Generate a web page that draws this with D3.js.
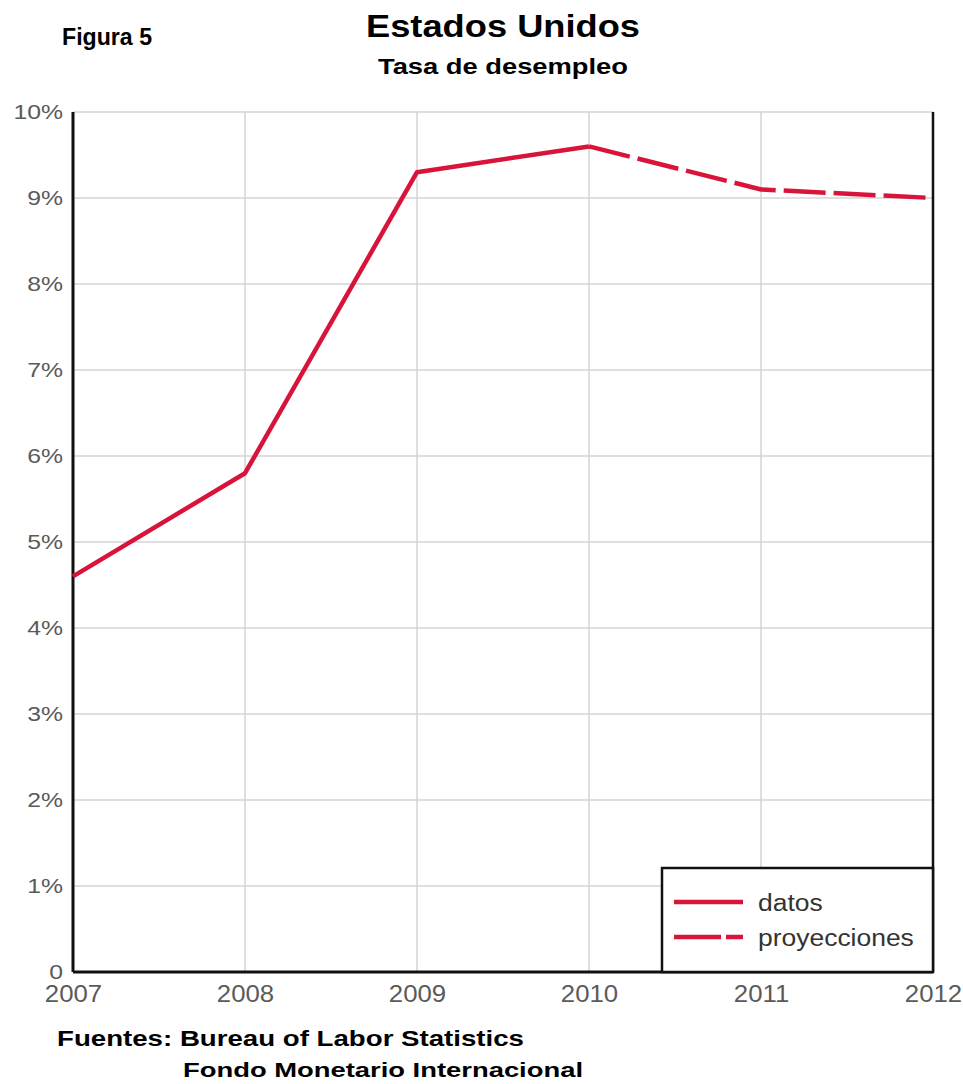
<!DOCTYPE html>
<html>
<head>
<meta charset="utf-8">
<script src="https://cdn.jsdelivr.net/npm/d3@7"></script>
<style>
  body { margin: 0; background: #fff; }
  text { font-family: "Liberation Sans", Arial, sans-serif; }
</style>
</head>
<body>
<svg id="chart"></svg>
<script>
// data
const years = [2007, 2008, 2009, 2010, 2011, 2012];
const datos = [4.6, 5.8, 9.3, 9.6];          // 2007-2010
const proyecciones = [9.6, 9.1, 9.0];        // 2010-2012
const yTicks = [0, 1, 2, 3, 4, 5, 6, 7, 8, 9, 10];

const width = 963, height = 1084;
const margin = {top: 112, right: 30, bottom: 112, left: 73};
const red = '#d8143a';

const svg = d3.select('#chart')
    .attr('width', width)
    .attr('height', height);

const innerW = width - margin.left - margin.right;
const innerH = height - margin.top - margin.bottom;

const x = d3.scaleLinear().domain([2007, 2012]).range([0, innerW]);
const y = d3.scaleLinear().domain([0, 10]).range([innerH, 0]);

// the lettering in the original is stretched sideways
function stretch(sel, k) {
    sel.each(function() {
        const w = this.getComputedTextLength();
        d3.select(this)
            .attr('textLength', w * k)
            .attr('lengthAdjust', 'spacingAndGlyphs');
    });
}

const chart = svg.append('g')
    .attr('transform', `translate(${margin.left},${margin.top})`);

// grid
chart.append('g')
    .selectAll('line')
    .data(yTicks)
    .join('line')
    .attr('x1', 0).attr('x2', innerW)
    .attr('y1', d => y(d)).attr('y2', d => y(d))
    .attr('stroke', '#d4d4d4')
    .attr('stroke-width', 1.5);

chart.append('g')
    .selectAll('line')
    .data(years)
    .join('line')
    .attr('x1', d => x(d)).attr('x2', d => x(d))
    .attr('y1', 0).attr('y2', innerH)
    .attr('stroke', '#d4d4d4')
    .attr('stroke-width', 1.5);

// axes
const yAxis = d3.axisLeft(y)
    .tickValues(yTicks)
    .tickSize(0)
    .tickPadding(10)
    .tickFormat(d => d === 0 ? '0' : d + '%');

const yg = chart.append('g').call(yAxis);
yg.select('.domain').remove();
yg.selectAll('text')
    .attr('font-size', 21)
    .attr('fill', '#5a5a5a')
    .attr('font-family', '"Liberation Sans", Arial, sans-serif')
    .call(stretch, 1.18);

const xAxis = d3.axisBottom(x)
    .tickValues(years)
    .tickSize(0)
    .tickPadding(14)
    .tickFormat(d3.format('d'));

const xg = chart.append('g')
    .attr('transform', `translate(0,${innerH})`)
    .call(xAxis);
xg.select('.domain').remove();
xg.selectAll('text')
    .attr('font-size', 23)
    .attr('fill', '#5a5a5a')
    .attr('font-family', '"Liberation Sans", Arial, sans-serif')
    .call(stretch, 1.12);

// frame
chart.append('line')
    .attr('x1', 0).attr('x2', 0).attr('y1', 0).attr('y2', innerH)
    .attr('stroke', '#111').attr('stroke-width', 3);
chart.append('line')
    .attr('x1', 0).attr('x2', innerW).attr('y1', innerH).attr('y2', innerH)
    .attr('stroke', '#111').attr('stroke-width', 3);
chart.append('line')
    .attr('x1', innerW).attr('x2', innerW).attr('y1', 0).attr('y2', innerH)
    .attr('stroke', '#111').attr('stroke-width', 2.5);

// lines
const line = d3.line()
    .x(d => x(d[0]))
    .y(d => y(d[1]));

const datosPts = datos.map((v, i) => [years[i], v]);
const proyPts = proyecciones.map((v, i) => [years[i + 3], v]);

chart.append('path')
    .datum(proyPts)
    .attr('d', line)
    .attr('fill', 'none')
    .attr('stroke', red)
    .attr('stroke-width', 4.5)
    .attr('stroke-dasharray', '42,8');

chart.append('path')
    .datum(datosPts)
    .attr('d', line)
    .attr('fill', 'none')
    .attr('stroke', red)
    .attr('stroke-width', 4.5)
    .attr('stroke-linejoin', 'round');

// legend
const lg = chart.append('g')
    .attr('transform', `translate(${innerW - 271},${innerH - 104})`);
lg.append('rect')
    .attr('width', 271).attr('height', 104)
    .attr('fill', '#fff')
    .attr('stroke', '#111').attr('stroke-width', 2.5);

const legendItems = [
    {label: 'datos', dash: null},
    {label: 'proyecciones', dash: '47,5'}
];
legendItems.forEach((d, i) => {
    const yy = 34 + i * 35;
    lg.append('line')
        .attr('x1', 12).attr('x2', 81)
        .attr('y1', yy).attr('y2', yy)
        .attr('stroke', red).attr('stroke-width', 4.5)
        .attr('stroke-dasharray', d.dash);
    lg.append('text')
        .attr('x', 96).attr('y', yy + 9)
        .attr('font-size', 23)
        .attr('fill', '#333')
        .text(d.label)
        .call(stretch, 1.15);
});

// titles
svg.append('text')
    .attr('x', 62).attr('y', 45)
    .attr('font-size', 23).attr('font-weight', 'bold')
    .attr('textLength', 90).attr('lengthAdjust', 'spacingAndGlyphs')
    .text('Figura 5');
svg.append('text')
    .attr('x', 503).attr('y', 37)
    .attr('text-anchor', 'middle')
    .attr('font-size', 32).attr('font-weight', 'bold')
    .attr('textLength', 274).attr('lengthAdjust', 'spacingAndGlyphs')
    .text('Estados Unidos');
svg.append('text')
    .attr('x', 503).attr('y', 74)
    .attr('text-anchor', 'middle')
    .attr('font-size', 22).attr('font-weight', 'bold')
    .attr('textLength', 250).attr('lengthAdjust', 'spacingAndGlyphs')
    .text('Tasa de desempleo');

// sources
svg.append('text')
    .attr('x', 57).attr('y', 1046)
    .attr('font-size', 22).attr('font-weight', 'bold')
    .attr('textLength', 467).attr('lengthAdjust', 'spacingAndGlyphs')
    .text('Fuentes: Bureau of Labor Statistics');
svg.append('text')
    .attr('x', 183).attr('y', 1077)
    .attr('font-size', 21).attr('font-weight', 'bold')
    .attr('textLength', 400).attr('lengthAdjust', 'spacingAndGlyphs')
    .text('Fondo Monetario Internacional');
</script>
</body>
</html>
